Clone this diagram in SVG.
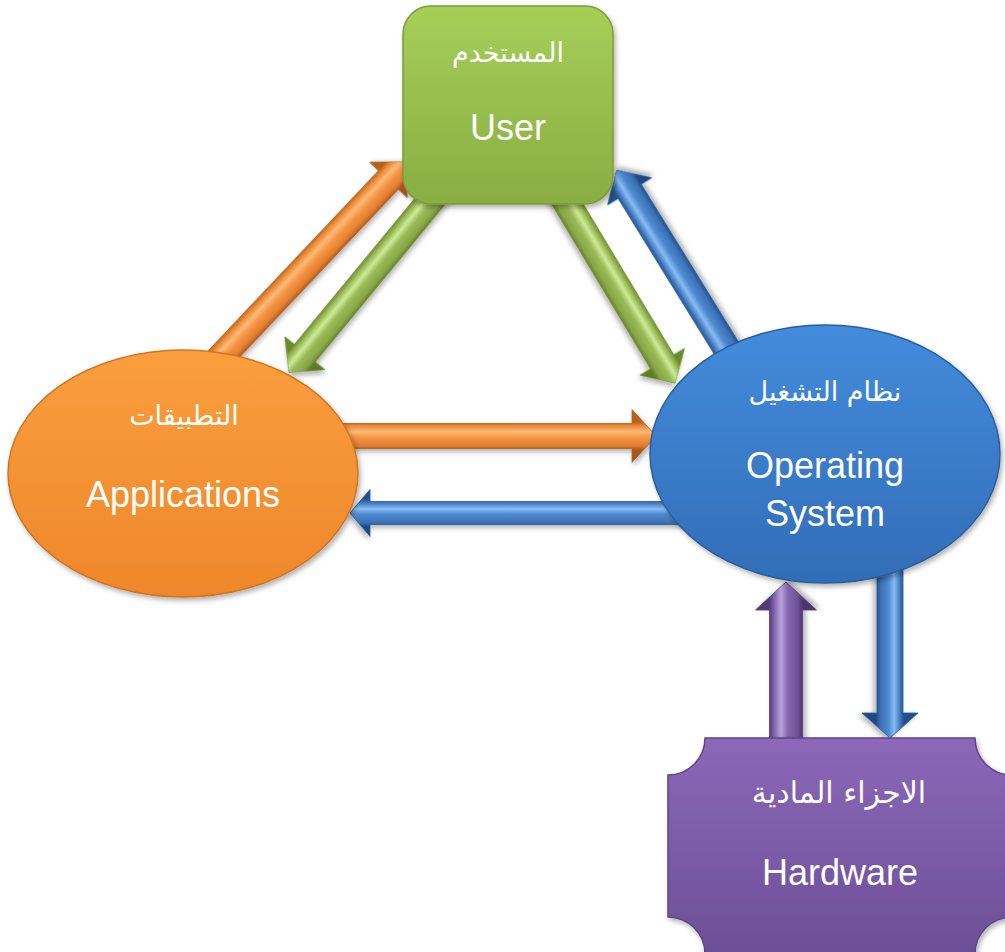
<svg xmlns="http://www.w3.org/2000/svg" width="1005" height="952" viewBox="0 0 1005 952">
<defs>
<style>
.en{font-family:"Liberation Sans",Arial,sans-serif;font-size:36px;fill:#fff;text-anchor:middle}
.ar{font-family:"DejaVu Sans",sans-serif;font-size:27px;fill:#fff;text-anchor:middle}
.arrow{stroke-width:0.8;stroke-linejoin:miter;filter:url(#sh)}
</style>
<filter id="sh" x="-20%" y="-20%" width="140%" height="140%">
<feDropShadow dx="2" dy="3" stdDeviation="2.5" flood-color="#000" flood-opacity="0.3"/>
</filter>
<linearGradient id="aOrange" gradientUnits="userSpaceOnUse" x1="0" y1="-14" x2="0" y2="14">
<stop offset="0" stop-color="#B8621F"/><stop offset="0.12" stop-color="#E8852F"/><stop offset="0.35" stop-color="#FDBA78"/><stop offset="0.55" stop-color="#F79646"/><stop offset="0.85" stop-color="#E07D2E"/><stop offset="1" stop-color="#A9561A"/>
</linearGradient>
<linearGradient id="aGreen" gradientUnits="userSpaceOnUse" x1="0" y1="-14" x2="0" y2="14">
<stop offset="0" stop-color="#6A8A2E"/><stop offset="0.12" stop-color="#8FB04A"/><stop offset="0.35" stop-color="#CDEB97"/><stop offset="0.55" stop-color="#9BBB59"/><stop offset="0.85" stop-color="#86A646"/><stop offset="1" stop-color="#5E7D25"/>
</linearGradient>
<linearGradient id="aBlue" gradientUnits="userSpaceOnUse" x1="0" y1="-14" x2="0" y2="14">
<stop offset="0" stop-color="#244F8A"/><stop offset="0.12" stop-color="#3C72B8"/><stop offset="0.35" stop-color="#86BDF3"/><stop offset="0.55" stop-color="#4F8AD0"/><stop offset="0.85" stop-color="#3A6FB4"/><stop offset="1" stop-color="#1F4A85"/>
</linearGradient>
<linearGradient id="aPurple" gradientUnits="userSpaceOnUse" x1="0" y1="-17" x2="0" y2="17">
<stop offset="0" stop-color="#523A78"/><stop offset="0.12" stop-color="#755A9E"/><stop offset="0.35" stop-color="#B9A2DE"/><stop offset="0.55" stop-color="#8467AE"/><stop offset="0.85" stop-color="#6E5298"/><stop offset="1" stop-color="#4A3470"/>
</linearGradient>
<linearGradient id="nGreen" x1="0" y1="0" x2="0" y2="1">
<stop offset="0" stop-color="#A6CF58"/><stop offset="1" stop-color="#89AD42"/>
</linearGradient>
<linearGradient id="nOrange" x1="0" y1="0" x2="0" y2="1">
<stop offset="0" stop-color="#FA9E3E"/><stop offset="1" stop-color="#EE872A"/>
</linearGradient>
<linearGradient id="nBlue" x1="0" y1="0" x2="0" y2="1">
<stop offset="0" stop-color="#438CDC"/><stop offset="1" stop-color="#326DB7"/>
</linearGradient>
<linearGradient id="nPurple" x1="0" y1="0" x2="0" y2="1">
<stop offset="0" stop-color="#8B68B8"/><stop offset="1" stop-color="#6C4F96"/>
</linearGradient>
</defs>
<rect width="1005" height="952" fill="#fff"/>
<g id="connectors">
<polygon class="arrow" fill="url(#aOrange)" stroke="#B0601E" points="0,-13.5 268.5,-13.5 268.5,-26 293.5,0 268.5,26 268.5,13.5 0,13.5" transform="translate(204,375) rotate(-46.6)"/>
<polygon class="arrow" fill="url(#aGreen)" stroke="#6E8C30" points="0,-13.5 218,-13.5 218,-26 243,0 218,26 218,13.5 0,13.5" transform="translate(443.5,185) rotate(129.5) scale(1,-1)"/>
<polygon class="arrow" fill="url(#aGreen)" stroke="#6E8C30" points="0,-13.5 209,-13.5 209,-26 234,0 209,26 209,13.5 0,13.5" transform="translate(554.6,182.7) rotate(59)"/>
<polygon class="arrow" fill="url(#aBlue)" stroke="#2A5A98" points="0,-13.5 210,-13.5 210,-26 235,0 210,26 210,13.5 0,13.5" transform="translate(740,370) rotate(-121.7)"/>
<polygon class="arrow" fill="url(#aOrange)" stroke="#B0601E" points="0,-12.5 302,-12.5 302,-26.5 326,0 302,26.5 302,12.5 0,12.5" transform="translate(330,436)"/>
<polygon class="arrow" fill="url(#aBlue)" stroke="#2A5A98" points="0,-11.5 320,-11.5 320,-23.5 340,0 320,23.5 320,11.5 0,11.5" transform="translate(690,513) rotate(180) scale(1,-1)"/>
<polygon class="arrow" fill="url(#aPurple)" stroke="#553D80" points="0,-16.5 150,-16.5 150,-30.5 178,0 150,30.5 150,16.5 0,16.5" transform="translate(786,760) rotate(-90)"/>
<polygon class="arrow" fill="url(#aBlue)" stroke="#2A5A98" points="0,-13 153,-13 153,-28 178,0 153,28 153,13 0,13" transform="translate(890,560) rotate(90)"/>
</g>
<g id="user">
<rect x="403" y="6" width="210" height="198" rx="28" fill="url(#nGreen)" stroke="#7C9C3A" stroke-width="1.5" filter="url(#sh)"/>
<text class="ar" x="508" y="62">المستخدم</text>
<text class="en" x="508" y="140">User</text>
</g>
<g id="applications">
<ellipse cx="183" cy="473.5" rx="175" ry="123.5" fill="url(#nOrange)" stroke="#D27522" stroke-width="1.5" filter="url(#sh)"/>
<text class="ar" x="184" y="425">التطبيقات</text>
<text class="en" x="183" y="507">Applications</text>
</g>
<g id="os">
<ellipse cx="825" cy="454" rx="175" ry="129" fill="url(#nBlue)" stroke="#2B5D9C" stroke-width="1.5" filter="url(#sh)"/>
<text class="ar" x="825" y="401">نظام التشغيل</text>
<text class="en" x="825" y="478">Operating</text>
<text class="en" x="825" y="526">System</text>
</g>
<g id="hardware">
<path d="M705,738 H975 A37,37 0 0 0 1012,775 V917 A37,37 0 0 0 975,954 H705 A37,37 0 0 0 668,917 V775 A37,37 0 0 0 705,738 Z" fill="url(#nPurple)" stroke="#5E4488" stroke-width="1.5" filter="url(#sh)"/>
<text class="ar" x="839" y="803" style="font-size:30px">الاجزاء المادية</text>
<text class="en" x="840" y="885">Hardware</text>
</g>
</svg>
